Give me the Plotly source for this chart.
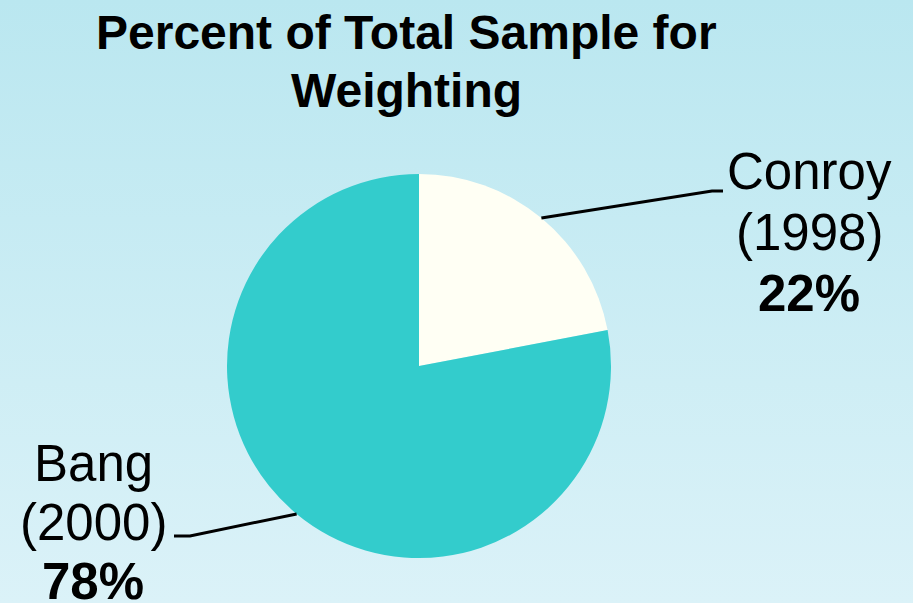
import math
import plotly.graph_objects as go

# Share of the combined sample used for weighting
studies = ["Conroy", "Bang"]
years = ["(1998)", "(2000)"]
shares = [22, 78]
slice_colors = ["#FFFFF4", "#33CCCC"]

title_lines = ["Percent of Total Sample for", "Weighting"]

W, H = 913, 603
CX, CY, R = 419, 366, 192  # pie centre and radius in pixels


def px(x):
    return x / W


def py(y):
    return 1 - y / H


fig = go.Figure()

# Soft vertical gradient behind everything
fig.add_trace(go.Scatter(
    x=[0, 1, 1, 0, 0], y=[0, 0, 1, 1, 0],
    mode="lines", line=dict(width=0),
    fill="toself",
    fillgradient=dict(type="vertical", start=0, stop=1,
                      colorscale=[[0, "#DBF2F8"], [1, "#BAE7F0"]]),
    hoverinfo="skip", showlegend=False,
))

fig.add_trace(go.Pie(
    labels=studies, values=shares,
    marker=dict(colors=slice_colors, line=dict(width=0)),
    sort=False, direction="clockwise", rotation=0,
    textinfo="none", hoverinfo="skip", showlegend=False,
    domain=dict(x=[px(CX - R), px(CX + R)], y=[py(CY + R), py(CY - R)]),
))


def text_line(x, y_top, text, size, family="Liberation Sans, Arial, sans-serif"):
    fig.add_annotation(
        x=px(x), y=py(y_top), xref="paper", yref="paper",
        xanchor="center", yanchor="top", showarrow=False,
        text=text, font=dict(family=family, size=size, color="black"),
    )


# Leader lines from each slice's mid-angle on the rim to its label
elbows = [((712, 191), (723, 191)), ((190, 536), (174, 536))]
label_pos = [(809, 141, 61), (93, 433, 59)]
LABEL_SIZE = 51

total = sum(shares)
cum = 0
for i, (name, yr, val) in enumerate(zip(studies, years, shares)):
    mid = (cum + val / 2) / total * 2 * math.pi
    cum += val
    rx = CX + R * math.sin(mid)
    ry = CY - R * math.cos(mid)
    (ex, ey), (hx, hy) = elbows[i]
    fig.add_shape(
        type="path", xref="paper", yref="paper",
        path=f"M {px(rx)},{py(ry)} L {px(ex)},{py(ey)} L {px(hx)},{py(hy)}",
        line=dict(color="black", width=3),
    )
    lx, ly, step = label_pos[i]
    text_line(lx, ly, name, LABEL_SIZE)
    text_line(lx, ly + step, yr, LABEL_SIZE)
    text_line(lx, ly + 2 * step, f"<b>{val}%</b>", LABEL_SIZE)

# Two-line bold title
text_line(406, 4, f"<b>{title_lines[0]}</b>", 48)
text_line(406, 62, f"<b>{title_lines[1]}</b>", 48)

fig.update_layout(
    width=W, height=H,
    margin=dict(l=0, r=0, t=0, b=0),
    paper_bgcolor="#C8EDF4", plot_bgcolor="rgba(0,0,0,0)",
    xaxis=dict(range=[0, 1], visible=False, fixedrange=True),
    yaxis=dict(range=[0, 1], visible=False, fixedrange=True),
)

fig.write_html("out.html")
